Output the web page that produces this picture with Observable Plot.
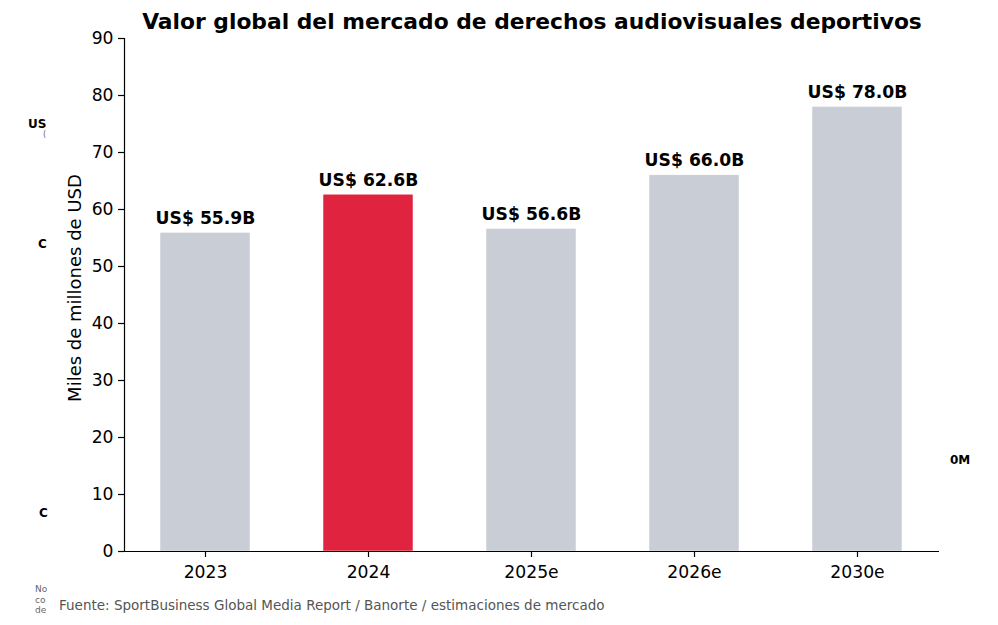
<!DOCTYPE html>
<html><head><meta charset="utf-8">
<script src="https://cdn.jsdelivr.net/npm/d3@7"></script>
<script src="https://cdn.jsdelivr.net/npm/@observablehq/plot@0.6"></script>
<style>
html,body{margin:0;padding:0;background:#fff;}
#wrap{position:relative;width:998px;height:625px;font-family:"DejaVu Sans",sans-serif;}
.frag{position:absolute;font-family:"DejaVu Sans",sans-serif;white-space:nowrap;}
</style></head>
<body><div id="wrap"></div>
<script>
const years = ["2023", "2024", "2025e", "2026e", "2030e"];
const values = [55.9, 62.6, 56.6, 66.0, 78.0];
const highlight = ["2024"];
const yTicks = [0, 10, 20, 30, 40, 50, 60, 70, 80, 90];
const title = "Valor global del mercado de derechos audiovisuales deportivos";
const yLabel = "Miles de millones de USD";
const source = "Fuente: SportBusiness Global Media Report / Banorte / estimaciones de mercado";

const data = years.map((y, i) => ({year: y, value: values[i], hl: highlight.includes(y)}));

const chart = Plot.plot({
  width: 998, height: 625,
  marginTop: 38, marginBottom: 74, marginLeft: 124, marginRight: 59,
  style: {fontFamily: "DejaVu Sans, sans-serif", fontSize: "17px", color: "#000", background: "#fff"},
  x: {domain: years, paddingInner: 0.447, paddingOuter: 0.2235, label: null},
  y: {domain: [0, 90], ticks: yTicks, label: null},
  marks: [
    Plot.barY(data, {x: "year", y: "value", fill: d => d.hl ? "#e0243f" : "#c9cdd6", stroke: "#fff", strokeWidth: 0.5}),
    Plot.text(data, {x: "year", y: "value", text: d => `US$ ${d.value.toFixed(1)}B`, dy: -9, lineAnchor: "bottom", fontWeight: "bold", fontSize: 17.2, fill: "#000"}),
    Plot.axisY({ticks: yTicks, tickSize: 6, tickPadding: 5, fontSize: 17.2, stroke: "#000", strokeWidth: 1.2, label: null}),
    Plot.axisX({tickSize: 6, tickPadding: 8, fontSize: 17.2, strokeWidth: 1.2, label: null}),
    Plot.frame({anchor: "left", stroke: "#000", strokeWidth: 1.2}),
    Plot.ruleY([0], {stroke: "#000", strokeWidth: 1.2}),
    Plot.text([yLabel], {frameAnchor: "left", dx: -49, dy: -7, rotate: -90, textAnchor: "middle", lineAnchor: "middle", fontSize: 18, fill: "#000"}),
    Plot.text([title], {frameAnchor: "top", dy: -16, lineAnchor: "middle", fontSize: 21.8, fontWeight: "bold", fill: "#000"})
  ]
});
const wrap = document.getElementById("wrap");
wrap.appendChild(chart);

const frags = [
  {t: "US", x: 28, y: 118, s: 12, w: "bold", c: "#000"},
  {t: "(", x: 43, y: 131, s: 8, w: "normal", c: "#666"},
  {t: "C", x: 38, y: 238, s: 12, w: "bold", c: "#000"},
  {t: "C", x: 39, y: 507, s: 12, w: "bold", c: "#000"},
  {t: "0M", x: 950, y: 454, s: 12, w: "bold", c: "#000"},
  {t: "No", x: 35, y: 585, s: 9, w: "normal", c: "#666", clip: 12},
  {t: "co", x: 35, y: 596, s: 9, w: "normal", c: "#666", clip: 12},
  {t: "de", x: 35, y: 606, s: 9, w: "normal", c: "#666", clip: 12}
];
for (const f of frags) {
  const d = document.createElement("div");
  d.className = "frag";
  d.textContent = f.t;
  Object.assign(d.style, {left: f.x + "px", top: f.y + "px", fontSize: f.s + "px", fontWeight: f.w, color: f.c, lineHeight: "1"});
  if (f.clip) { d.style.width = f.clip + "px"; d.style.overflow = "hidden"; }
  wrap.appendChild(d);
}
const src = document.createElement("div");
src.className = "frag";
src.textContent = source;
Object.assign(src.style, {left: "59px", top: "599px", fontSize: "13.5px", color: "#555", lineHeight: "1"});
wrap.appendChild(src);
</script></body></html>
